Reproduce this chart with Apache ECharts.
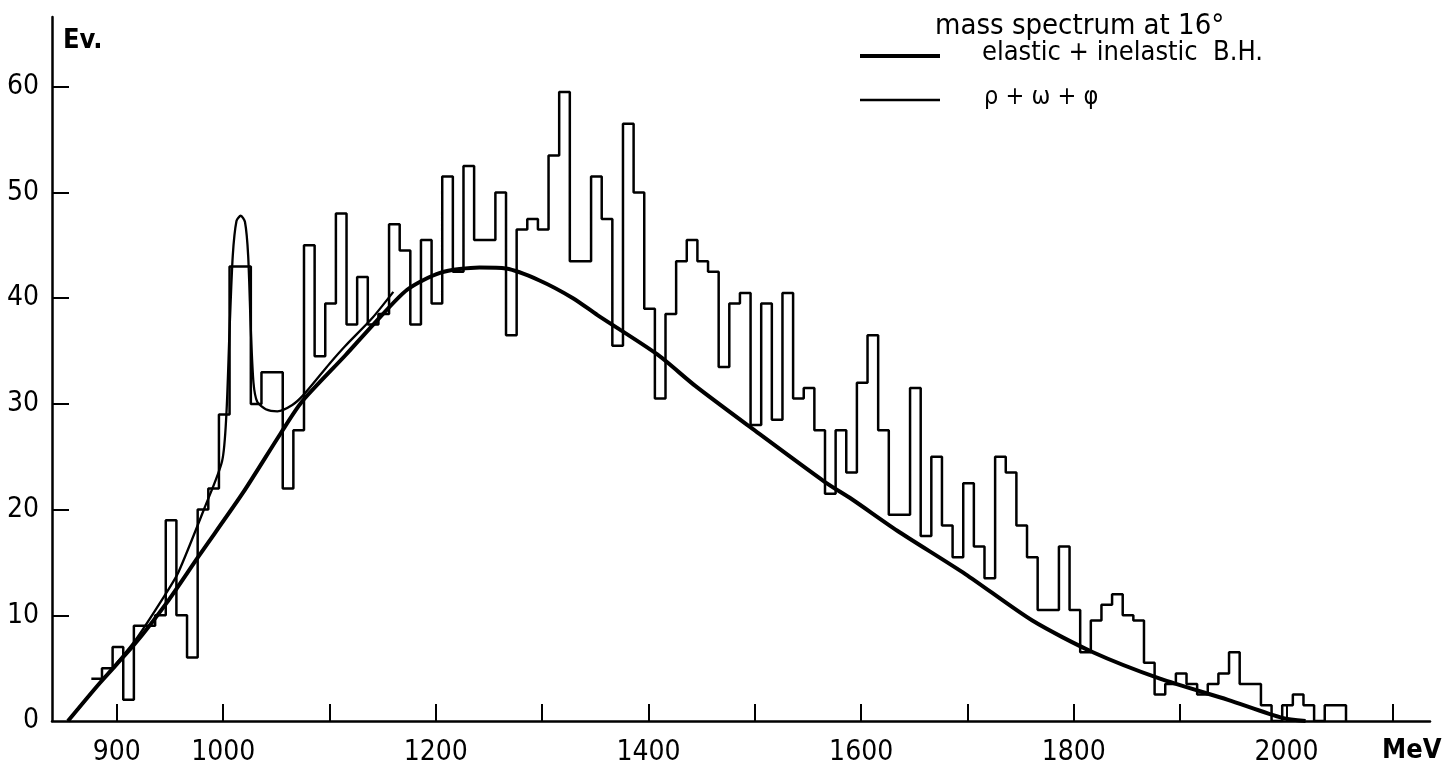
<!DOCTYPE html>
<html>
<head>
<meta charset="utf-8">
<title>mass spectrum at 16°</title>
<script src="https://cdn.jsdelivr.net/npm/echarts@6/dist/echarts.min.js"></script>
<style>
  html, body { margin: 0; padding: 0; background: #fff; }
  #chart { width: 1442px; height: 769px; }
</style>
</head>
<body>
<div id="chart"></div>
<script>
// histogram: 10 MeV bins, first bin starts at binStart
const binStart = 876;
const binWidth = 10;
const counts = [
  4, 5, 7, 2, 9, 9, 10, 19, 10, 6,
  20, 22, 29, 43, 43, 30, 33, 33, 22, 27.5,
  45, 34.5, 39.5, 48, 37.5, 42, 37.5, 38.5, 47, 44.5,
  37.5, 45.5, 39.5, 51.5, 42.5, 52.5, 45.5, 45.5, 50, 36.5,
  46.5, 47.5, 46.5, 53.5, 59.5, 43.5, 43.5, 51.5, 47.5, 35.5,
  56.5, 50, 39, 30.5, 38.5, 43.5, 45.5, 43.5, 42.5, 33.5,
  39.5, 40.5, 28, 39.5, 28.5, 40.5, 30.5, 31.5, 27.5, 21.5,
  27.5, 23.5, 32, 36.5, 27.5, 19.5, 19.5, 31.5, 17.5, 25,
  18.5, 15.5, 22.5, 16.5, 13.5, 25, 23.5, 18.5, 15.5, 10.5,
  10.5, 16.5, 10.5, 6.5, 9.5, 11, 12, 10, 9.5, 5.5,
  2.5, 3.5, 4.5, 3.5, 2.5, 3.5, 4.5, 6.5, 3.5, 3.5,
  1.5, 0, 1.5, 2.5, 1.5, 0, 1.5, 1.5
];

// elastic + inelastic Bethe-Heitler curve (thick)
const bhMass = [854, 884, 917, 947, 977, 1018, 1054, 1074, 1115, 1142, 1173, 1204, 1241, 1266, 1297,
  1329, 1352, 1408, 1444, 1497, 1566, 1591, 1634, 1698, 1761, 1818, 1881, 1945, 1996, 2018];
const bhEvents = [0, 3.6, 7.3, 11.2, 15.6, 21.5, 27.2, 30.2, 34.6, 37.6, 40.8, 42.4, 42.9, 42.8, 41.7,
  40, 38.4, 34.7, 31.7, 27.7, 22.6, 21, 18, 13.9, 9.5, 6.5, 4, 2, 0.3, 0];

// rho + omega + phi curve (thin)
const resMass = [854, 884, 917, 947, 958, 983, 999, 1003, 1006, 1009, 1012.5, 1016.5, 1020.5, 1023.5,
  1026, 1028.5, 1032, 1040, 1051, 1065, 1076, 1100, 1115, 1140, 1160];
const resEvents = [0, 3.6, 7.6, 12.2, 14.1, 20.3, 24.6, 29, 37, 44, 47.3, 47.8, 47.2, 44,
  37, 32, 30.2, 29.5, 29.3, 29.9, 30.9, 33.8, 35.5, 38.1, 40.6];

const xTicks = [900, 1000, 1100, 1200, 1300, 1400, 1500, 1600, 1700, 1800, 1900, 2000, 2100];
const xLabels = [900, 1000, 1200, 1400, 1600, 1800, 2000];
const yTicks = [10, 20, 30, 40, 50, 60];
const yLabels = [0, 10, 20, 30, 40, 50, 60];

const numFont = '"DejaVu Sans Condensed", "Liberation Sans", sans-serif';

function histogramSteps() {
  const pts = counts.map((c, i) => [binStart + i * binWidth, c]);
  const end = binStart + counts.length * binWidth;
  pts.push([end, counts[counts.length - 1]]);
  pts.push([end, 0]);
  return pts;
}

const myChart = echarts.init(document.getElementById('chart'));
const option = {
  animation: false,
  backgroundColor: '#fff',
  grid: { left: 52, right: 12, top: 17, bottom: 48 },
  xAxis: {
    type: 'value',
    min: 839,
    max: 2135,
    splitLine: { show: false },
    axisLine: { lineStyle: { color: '#000', width: 2.5 } },
    axisTick: {
      inside: true,
      length: 17,
      customValues: xTicks,
      lineStyle: { color: '#000', width: 2 }
    },
    axisLabel: {
      customValues: xLabels,
      formatter: (v) => String(v),
      margin: 18,
      color: '#000',
      fontSize: 28,
      fontFamily: numFont
    }
  },
  yAxis: {
    type: 'value',
    min: 0,
    max: 66.6,
    splitLine: { show: false },
    axisLine: { show: true, lineStyle: { color: '#000', width: 2.5 } },
    axisTick: {
      show: true,
      inside: true,
      length: 17,
      customValues: yTicks,
      lineStyle: { color: '#000', width: 2 }
    },
    axisLabel: {
      customValues: yLabels,
      formatter: (v) => String(v),
      margin: 13,
      color: '#000',
      fontSize: 28,
      fontFamily: numFont
    }
  },
  series: [
    {
      name: 'histogram',
      type: 'line',
      step: 'end',
      symbol: 'none',
      data: histogramSteps(),
      lineStyle: { color: '#000', width: 2.5 }
    },
    {
      name: 'elastic + inelastic B.H.',
      type: 'line',
      smooth: 0.25,
      symbol: 'none',
      data: bhMass.map((m, i) => [m, bhEvents[i]]),
      lineStyle: { color: '#000', width: 4 }
    },
    {
      name: 'ρ + ω + φ',
      type: 'line',
      smooth: 0.25,
      symbol: 'none',
      data: resMass.map((m, i) => [m, resEvents[i]]),
      lineStyle: { color: '#000', width: 2.3 }
    }
  ],
  graphic: [
    {
      type: 'text', left: 63, top: 27,
      style: { text: 'Ev.', fill: '#000', font: 'bold 27px ' + numFont }
    },
    {
      type: 'text', left: 1382, top: 737,
      style: { text: 'MeV', fill: '#000', font: 'bold 27px ' + numFont }
    },
    {
      type: 'text', left: 935, top: 12,
      style: { text: 'mass spectrum at 16°', fill: '#000', font: '29px ' + numFont }
    },
    {
      type: 'line',
      shape: { x1: 860, y1: 56, x2: 940, y2: 56 },
      style: { stroke: '#000', lineWidth: 4 }
    },
    {
      type: 'text', left: 982, top: 39,
      style: { text: 'elastic + inelastic  B.H.', fill: '#000', font: '27px ' + numFont }
    },
    {
      type: 'line',
      shape: { x1: 860, y1: 100, x2: 940, y2: 100 },
      style: { stroke: '#000', lineWidth: 2.3 }
    },
    {
      type: 'text', left: 984, top: 85,
      style: { text: 'ρ + ω + φ', fill: '#000', font: '25px ' + numFont }
    }
  ]
};
option && myChart.setOption(option);
</script>
</body>
</html>
